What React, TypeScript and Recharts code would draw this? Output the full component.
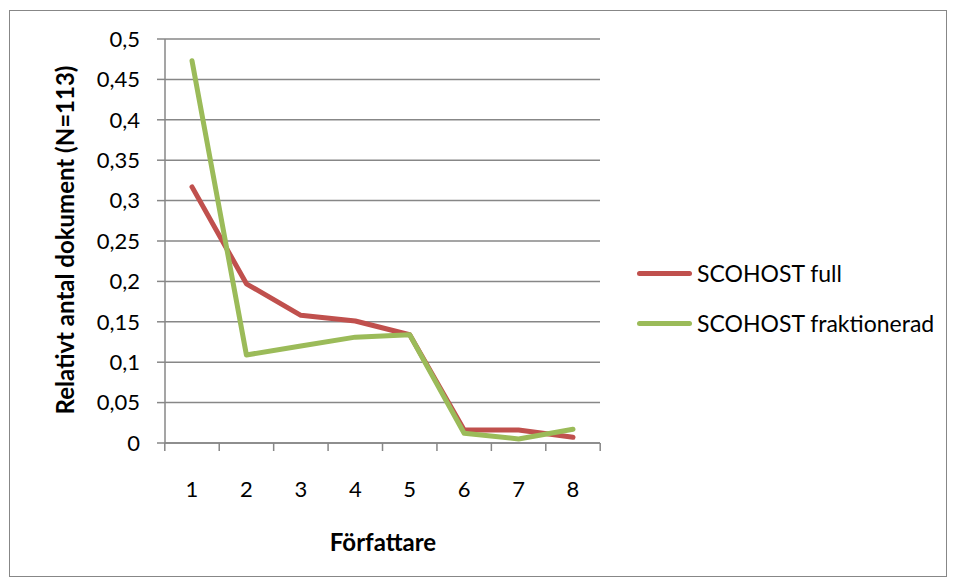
import { LineChart, Line, XAxis, YAxis, CartesianGrid, Legend } from 'recharts'

const categories = ['1', '2', '3', '4', '5', '6', '7', '8']
const seriesNames = ['SCOHOST full', 'SCOHOST fraktionerad']
const fullValues = [0.317, 0.197, 0.158, 0.151, 0.134, 0.016, 0.016, 0.007]
const fraktValues = [0.473, 0.109, 0.12, 0.131, 0.134, 0.012, 0.005, 0.017]
const yTicks = [0, 0.05, 0.1, 0.15, 0.2, 0.25, 0.3, 0.35, 0.4, 0.45, 0.5]
const yTickLabels = ['0', '0,05', '0,1', '0,15', '0,2', '0,25', '0,3', '0,35', '0,4', '0,45', '0,5']

const data = categories.map((c, i) => ({ name: c, full: fullValues[i], frakt: fraktValues[i] }))

const GRAY = '#878787'
const FONT = 'Lato, "Open Sans", sans-serif'

function XTick(props: any) {
  const { x, y, payload, index } = props
  const half = 27.2
  return (
    <g>
      <line x1={x - half} y1={y} x2={x - half} y2={y + 8} stroke={GRAY} strokeWidth={1.5} />
      {index === categories.length - 1 && (
        <line x1={x + half} y1={y} x2={x + half} y2={y + 8} stroke={GRAY} strokeWidth={1.5} />
      )}
      <text x={x} y={y + 45} textAnchor="middle" dominantBaseline="central" fontSize={22} fill="#000">
        {payload.value}
      </text>
    </g>
  )
}

function LegendBox(props: any) {
  // keep the legend in the same order as the series list
  const items = [...(props.payload || [])].sort(
    (a: any, b: any) => seriesNames.indexOf(a.value) - seriesNames.indexOf(b.value)
  )
  return (
    <div style={{ fontFamily: FONT, fontSize: 23, color: '#000' }}>
      {items.map((p: any) => (
        <div key={p.value} style={{ display: 'flex', alignItems: 'center', height: 50 }}>
          <div style={{ width: 55, height: 5, borderRadius: 3, background: p.color, marginRight: 5 }} />
          <span>{p.value}</span>
        </div>
      ))}
    </div>
  )
}

export default function App() {
  return (
    <div style={{ position: 'absolute', left: 9, top: 10, width: 938, height: 567, border: `1px solid ${GRAY}`, boxSizing: 'border-box', fontFamily: FONT }}>
      <div style={{ position: 'absolute', left: 0, top: 0 }}>
        <LineChart width={936} height={565} data={data} margin={{ top: 28, right: 346, left: 0, bottom: 0 }}>
          <CartesianGrid vertical={false} stroke={GRAY} strokeWidth={1.5} />
          <XAxis
            dataKey="name"
            padding={{ left: 27, right: 27 }}
            tickSize={0}
            tickMargin={0}
            interval={0}
            tick={<XTick />}
            axisLine={{ stroke: GRAY, strokeWidth: 1.5 }}
            height={133}
            label={{
              content: () => (
                <text x={373} y={530} textAnchor="middle" dominantBaseline="central" fontSize={24} fontWeight="bold" fill="#000">
                  Författare
                </text>
              ),
            }}
          />
          <YAxis
            width={155}
            domain={[0, 0.5]}
            ticks={yTicks}
            interval={0}
            tickSize={8}
            tickMargin={17}
            tickFormatter={(v: number) => yTickLabels[yTicks.indexOf(v)]}
            tick={{ fontSize: 22, fill: '#000' }}
            axisLine={{ stroke: GRAY, strokeWidth: 1.5 }}
            tickLine={{ stroke: GRAY, strokeWidth: 1.5 }}
            label={{
              content: () => (
                <text x={54} y={229} transform="rotate(-90 54 229)" textAnchor="middle" dominantBaseline="central" fontSize={24} fontWeight="bold" fill="#000">
                  Relativt antal dokument (N=113)
                </text>
              ),
            }}
          />
          <Legend
            layout="vertical"
            align="center"
            verticalAlign="middle"
            content={<LegendBox />}
            wrapperStyle={{ position: 'absolute', left: 627, top: 237, width: 320 }}
          />
          <Line
            dataKey="full"
            name={seriesNames[0]}
            stroke="#C0504D"
            strokeWidth={5}
            strokeLinecap="round"
            strokeLinejoin="round"
            dot={false}
            activeDot={false}
            isAnimationActive={false}
          />
          <Line
            dataKey="frakt"
            name={seriesNames[1]}
            stroke="#9BBB59"
            strokeWidth={5}
            strokeLinecap="round"
            strokeLinejoin="round"
            dot={false}
            activeDot={false}
            isAnimationActive={false}
          />
        </LineChart>
      </div>
    </div>
  )
}
